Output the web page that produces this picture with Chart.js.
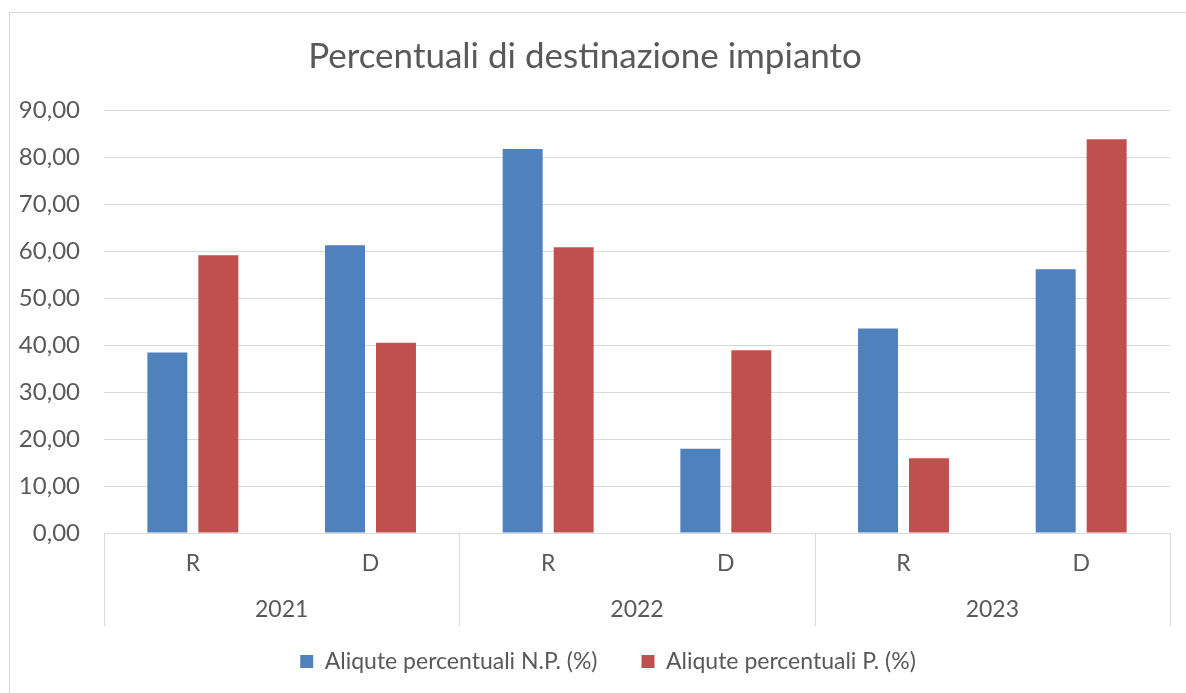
<!DOCTYPE html>
<html>
<head>
<meta charset="utf-8">
<script src="https://cdn.jsdelivr.net/npm/chart.js@4/dist/chart.umd.min.js"></script>
<style>
  html, body { margin: 0; padding: 0; background: #fff; }
  #wrap { position: absolute; left: 0; top: 0; width: 1186px; height: 693px; }
  #frame { position: absolute; left: 9px; top: 12px; width: 1200px; height: 700px; border: 1px solid #d9d9d9; box-sizing: border-box; }
  canvas { position: absolute; left: 0; top: 0; }
</style>
</head>
<body>
<div id="wrap">
  <div id="frame"></div>
  <canvas id="c" width="1186" height="693"></canvas>
</div>
<script>
const titleText = 'Percentuali di destinazione impianto';
const categories = ['R', 'D', 'R', 'D', 'R', 'D'];
const years = ['2021', '2022', '2023'];
const seriesNP = [38.4, 61.2, 81.7, 17.9, 43.5, 56.1];
const seriesP = [59.1, 40.5, 60.8, 38.9, 15.9, 83.8];
const seriesNames = ['Aliqute percentuali N.P. (%)', 'Aliqute percentuali P. (%)'];
const yTicks = [0, 10, 20, 30, 40, 50, 60, 70, 80, 90];

const FONT = "Lato, 'Open Sans', sans-serif";
const TXT = '#595959';
const GRID = '#d9d9d9';

// Second level of the category axis: group separators and year labels
const groupAxis = {
  id: 'groupAxis',
  afterLayout(chart) {
    // nudge the legend to be centred like the original
    if (chart.legend) { chart.legend.left += 23; chart.legend.right += 23; }
  },
  afterDraw(chart) {
    const x2 = chart.scales.x2;
    const ctx = chart.ctx;
    const top = chart.chartArea.bottom;
    ctx.save();
    ctx.strokeStyle = GRID;
    ctx.lineWidth = 1;
    for (let i = 0; i <= years.length; i++) {
      const px = Math.round(x2.getPixelForValue(i - 0.5)) + 0.5;
      ctx.beginPath();
      ctx.moveTo(px, top);
      ctx.lineTo(px, top + 93);
      ctx.stroke();
    }
    ctx.fillStyle = TXT;
    ctx.font = '23px ' + FONT;
    ctx.textAlign = 'center';
    ctx.textBaseline = 'middle';
    years.forEach((y, i) => {
      ctx.fillText(y, x2.getPixelForValue(i), top + 77);
    });
    ctx.restore();
  }
};

new Chart(document.getElementById('c'), {
  type: 'bar',
  data: {
    labels: categories,
    datasets: [
      { label: seriesNames[0], data: seriesNP, backgroundColor: '#4F81BD', xAxisID: 'x' },
      { label: seriesNames[1], data: seriesP, backgroundColor: '#C0504D', xAxisID: 'x' }
    ]
  },
  options: {
    responsive: false,
    animation: false,
    devicePixelRatio: 1,
    datasets: { bar: { categoryPercentage: 0.574, barPercentage: 0.784 } },
    layout: { padding: { left: 0, right: 16, top: 0, bottom: 10 } },
    plugins: {
      title: {
        display: true,
        text: titleText,
        color: TXT,
        font: { family: FONT, size: 35, weight: 'normal' },
        padding: { top: 36, bottom: 32 }
      },
      legend: {
        position: 'bottom',
        labels: {
          color: TXT,
          font: { family: FONT, size: 23 },
          boxWidth: 13,
          boxHeight: 13,
          padding: 44
        }
      },
      tooltip: { enabled: false }
    },
    scales: {
      x: {
        type: 'category',
        position: 'bottom',
        offset: true,
        grid: { display: false, drawTicks: false },
        border: { display: true, color: GRID, width: 1 },
        ticks: { color: TXT, font: { family: FONT, size: 23 }, padding: 17, maxRotation: 0 },
        afterFit(s) { s.height = 53; }
      },
      x2: {
        type: 'category',
        position: 'bottom',
        labels: years,
        offset: true,
        grid: { display: false, drawTicks: false },
        border: { display: false },
        ticks: { display: false },
        afterFit(s) { s.height = 20; }
      },
      y: {
        min: yTicks[0],
        max: yTicks[yTicks.length - 1],
        grid: { color: GRID, lineWidth: 1, drawTicks: false },
        border: { display: false },
        afterBuildTicks(s) { s.ticks = yTicks.map(v => ({ value: v })); },
        ticks: {
          color: TXT,
          font: { family: FONT, size: 24 },
          padding: 24,
          callback: v => v.toFixed(2).replace('.', ',')
        },
        afterFit(s) { s.width = 104; }
      }
    }
  },
  plugins: [groupAxis]
});
</script>
</body>
</html>
